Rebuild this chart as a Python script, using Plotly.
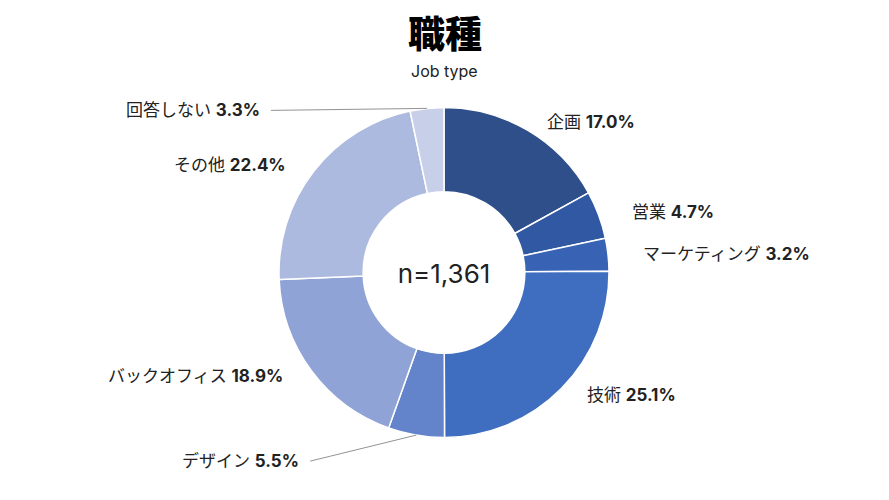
import math
import plotly.graph_objects as go

# job type shares (%)
labels = ['企画', '営業', 'マーケティング', '技術', 'デザイン', 'バックオフィス', 'その他', '回答しない']
shares = [17.0, 4.7, 3.2, 25.1, 5.5, 18.9, 22.4, 3.3]
colors = ['#2E4F8A', '#3159A3', '#3862B3', '#3F6EC0', '#6383CA', '#8FA3D6', '#ADBADF', '#C8CFE9']
n_total = '1,361'

W, H = 889, 500
cx, cy, R = 444, 272.5, 165          # donut centre / radius in pixels
font_family = 'Inter, "Noto Sans CJK JP", sans-serif'
jp_font = '"Noto Sans CJK JP", Inter, sans-serif'

# small slices near the vertical get a leader line (text offset in px)
leader = {'デザイン': (-106, 26), '回答しない': (-156, 2)}

pie = go.Pie(
    labels=labels,
    values=shares,
    sort=False,
    direction='clockwise',
    rotation=0,
    hole=0.49,
    marker=dict(colors=colors, line=dict(color='white', width=1.5)),
    textinfo='none',
    hoverinfo='label+value',
    title=dict(text='n=' + n_total, position='middle center',
               font=dict(size=26, color='#222222', family=font_family)),
    domain=dict(x=[cx / W - 0.3, cx / W + 0.3], y=[1 - (cy + R) / H, 1 - (cy - R) / H]),
    showlegend=False,
)

fig = go.Figure([pie])

annotations = [
    dict(text='職種', x=0.5, y=1 - 32 / H, xref='paper', yref='paper',
         xanchor='center', yanchor='middle', showarrow=False,
         font=dict(size=37, color='black', family=jp_font, weight=900)),
    dict(text='Job type', x=0.5, y=1 - 71 / H, xref='paper', yref='paper',
         xanchor='center', yanchor='middle', showarrow=False,
         font=dict(size=16, color='#222222', family=font_family)),
]

total = sum(shares)
cum = 0
for lab, val in zip(labels, shares):
    mid = math.radians((cum + val / 2) / total * 360)
    cum += val
    s, c = math.sin(mid), math.cos(mid)
    txt = f'{lab} <b>{val:.1f}%</b>'
    fnt = dict(size=17, color='#222222', family=font_family)
    if lab in leader:
        ex, ey = cx + R * s, cy - R * c
        dx, dy = leader[lab]
        annotations.append(dict(
            text=txt, x=ex / W, y=1 - ey / H, xref='paper', yref='paper',
            ax=dx, ay=dy, axref='pixel', ayref='pixel',
            xanchor='right', yanchor='middle', showarrow=True,
            arrowhead=0, arrowwidth=0.8, arrowcolor='#777777', borderpad=10,
            font=fnt))
    else:
        lx, ly = cx + 1.2 * R * s, cy - 1.06 * R * c
        annotations.append(dict(
            text=txt, x=lx / W, y=1 - ly / H, xref='paper', yref='paper',
            xanchor='left' if s > 0 else 'right', yanchor='middle',
            showarrow=False, font=fnt))

fig.update_layout(
    width=W,
    height=H,
    margin=dict(l=0, r=0, t=0, b=0),
    paper_bgcolor='white',
    plot_bgcolor='white',
    font=dict(family=font_family, color='#222222'),
    annotations=annotations,
)

# drop the default page margin so the figure sits at the window's corner
fig.write_html('out.html', config={'displayModeBar': False},
               post_script="document.body.style.margin='0';")
